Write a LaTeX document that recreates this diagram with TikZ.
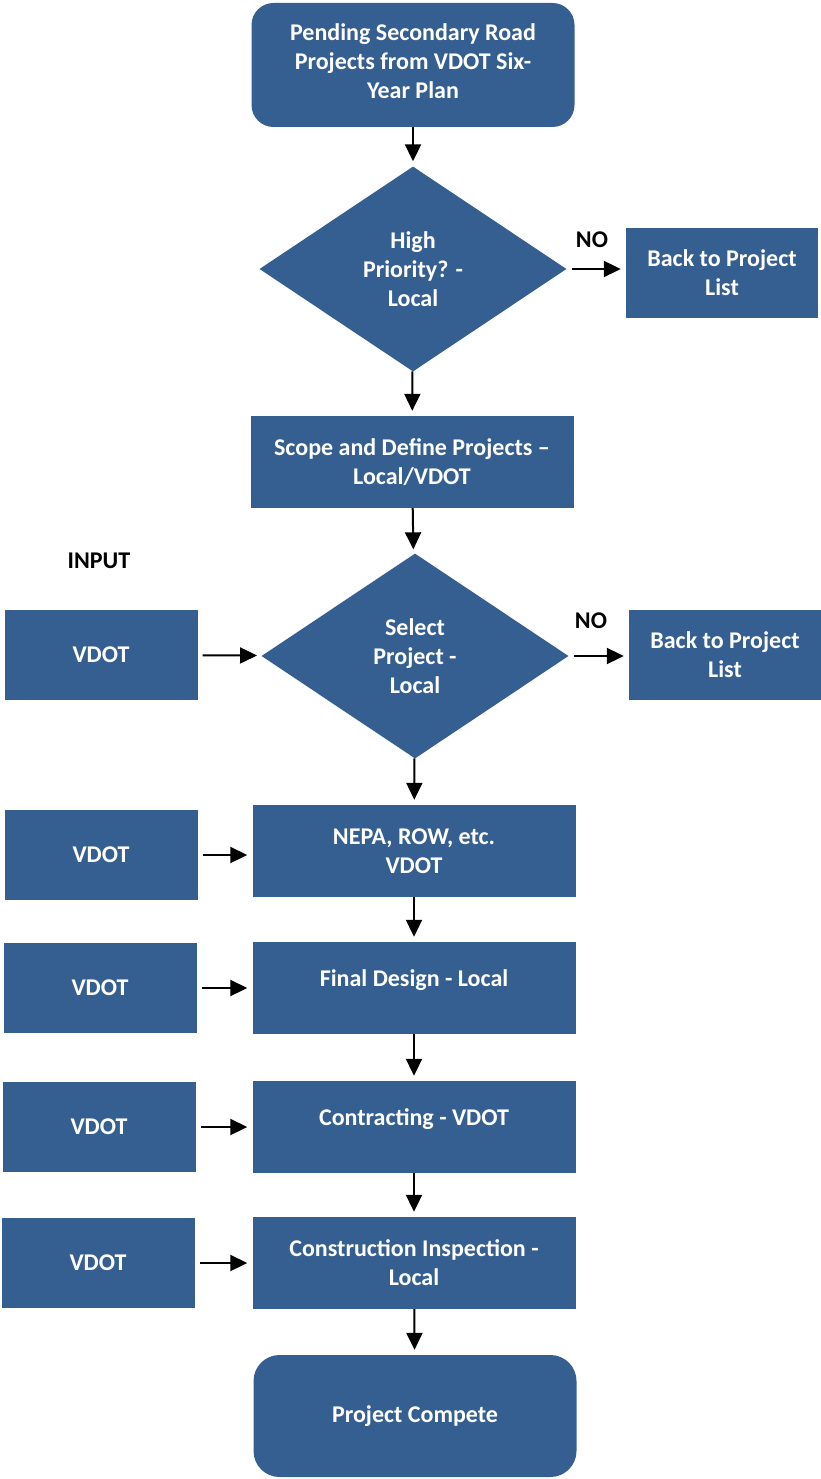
\documentclass[tikz,border=0pt]{standalone}
\usepackage{fontspec}
\setmainfont{Carlito}
\usetikzlibrary{shapes.geometric,arrows.meta}
\definecolor{boxblue}{RGB}{54,95,145}
\tikzset{
  box/.style={rectangle, fill=boxblue, text=white, align=center, inner sep=0pt,
    minimum width=323pt, minimum height=92pt},
  inbox/.style={box, minimum width=193pt, minimum height=90pt},
  backbox/.style={box, minimum width=192pt, minimum height=90pt},
  roundbox/.style={box, rounded corners=22pt},
  choice/.style={diamond, fill=boxblue, text=white, align=center, inner sep=0pt,
    minimum width=307pt, minimum height=205pt},
  lift/.style={text depth=20pt},
  flow/.style={-{Triangle[length=17pt,width=16pt]}, line width=2pt, shorten >=5pt},
  side/.style={flow, shorten <=5pt},
  tag/.style={font=\bfseries\fontsize{24}{29}\selectfont}
}
\begin{document}
\begin{tikzpicture}[x=1pt, y=-1pt, font=\bfseries\fontsize{24}{29}\selectfont]

  \useasboundingbox (0,0) rectangle (820,1479);

  \node[roundbox, minimum height=124pt, text depth=7pt] (top) at (413,65) {Pending Secondary Road\\Projects from VDOT Six-\\Year Plan};
  \node[choice] (prio) at (413,269) {High\\Priority? -\\Local};
  \node[backbox] (back1) at (722,273) {Back to Project\\List};
  \node[tag] (no1) at (592,240) {NO};

  \node[box] (scope) at (412,462) {Scope and Define Projects --\\Local/VDOT};
  \node[choice] (select) at (415,656) {Select\\Project -\\Local};
  \node[backbox] (back2) at (725,655) {Back to Project\\List};
  \node[tag] (no2) at (591,621) {NO};

  \node[tag] (input) at (99,561) {INPUT};
  \node[inbox] (vdot1) at (101,655) {VDOT};
  \node[inbox] (vdot2) at (101,855) {VDOT};
  \node[inbox] (vdot3) at (100,988) {VDOT};
  \node[inbox] (vdot4) at (99,1127) {VDOT};
  \node[inbox] (vdot5) at (98,1263) {VDOT};

  \node[box] (nepa) at (414,851) {NEPA, ROW, etc.\\VDOT};
  \node[box, lift] (design) at (414,988) {Final Design - Local};
  \node[box, lift] (contract) at (414,1127) {Contracting - VDOT};
  \node[box] (inspect) at (414,1263) {Construction Inspection -\\Local};
  \node[roundbox, minimum height=122pt, rounded corners=26pt] (done) at (415,1416) {Project Compete};

  \draw[flow] (top) -- (prio);
  \draw[flow] (prio) -- (scope);
  \draw[flow] (scope) -- (select);
  \draw[flow] (select) -- (nepa);
  \draw[flow] (nepa) -- (design);
  \draw[flow] (design) -- (contract);
  \draw[flow] (contract) -- (inspect);
  \draw[flow] (inspect) -- (done);

  \draw[side] (prio) -- (back1.west |- prio);
  \draw[side] (select) -- (back2.west |- select);
  \draw[side] (vdot1) -- (select);
  \draw[side] (vdot2) -- (nepa.west |- vdot2);
  \draw[side] (vdot3) -- (design.west |- vdot3);
  \draw[side] (vdot4) -- (contract.west |- vdot4);
  \draw[side] (vdot5) -- (inspect.west |- vdot5);
\end{tikzpicture}
\end{document}
